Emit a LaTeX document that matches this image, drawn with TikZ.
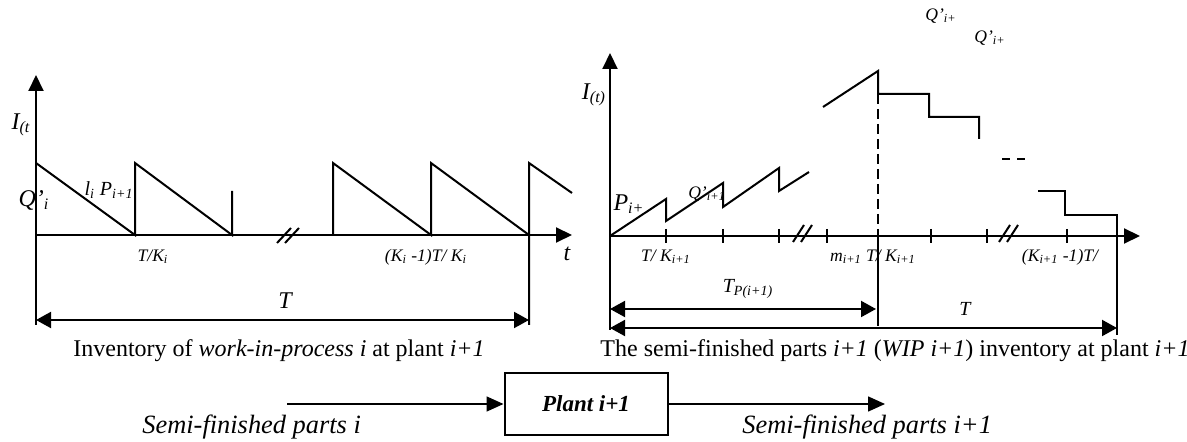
\documentclass[tikz,border=0pt]{standalone}
\usepackage{fontspec}
\setmainfont{Liberation Serif}
\usetikzlibrary{arrows.meta}
\newcommand{\sbs}[1]{\textsubscript{#1}}

\begin{document}
\begin{tikzpicture}[
    x=0.5pt, y=-0.5pt,
    axis/.style={line width=1pt, -{Triangle[length=8pt,width=7.5pt]}},
    saw/.style={line width=1pt},
    dim/.style={line width=1pt,
                {Triangle[length=7.5pt,width=8pt]}-{Triangle[length=7.5pt,width=8pt]}},
    flow/.style={line width=0.8pt, -{Triangle[length=8.5pt,width=7.5pt]}},
    biglbl/.style={inner sep=0pt, font=\fontsize{12}{14}\selectfont\itshape},
    midlbl/.style={inner sep=0pt, font=\fontsize{10}{12}\selectfont\itshape},
    ticklbl/.style={inner sep=0pt, font=\fontsize{8.8}{10}\selectfont\itshape},
    flowlbl/.style={inner sep=0pt, font=\fontsize{13.2}{15}\selectfont\itshape},
    caption/.style={inner sep=0pt, font=\fontsize{12}{14}\selectfont},
    plantbox/.style={draw, line width=1pt, minimum width=81.5pt, minimum height=31pt,
                     font=\fontsize{11.5}{13}\selectfont\bfseries\itshape}
  ]
  \useasboundingbox (0,0) rectangle (1187,442);

  % Left: work-in-process i at plant i+1
  \draw[axis] (36,325) -- (36,75);
  \draw[axis] (36,235) -- (572,235);
  \draw[saw] (36,163) -- (135,235) -- (135,163) -- (232,235) -- (232,191);
  \draw[saw] (333,235) -- (333,163) -- (431,235) -- (431,163) -- (529,235);
  \draw[saw] (529,325) -- (529,163) -- (572,193);
  \foreach \bx/\by in {287/235}
    \draw[saw] (\bx-10,\by+8) -- ++(14,-15) ++(-6,15) -- ++(14,-15);

  \node[biglbl] (ileft) at (21,125) {I\sbs{(t}};
  \node[biglbl] (qleft) at (34,200) {Q'\sbs{i}};
  \node[midlbl] (rate)  at (109,190) {l\sbs{i} P\sbs{i+1}};
  \node[ticklbl] (tk1)  at (153,257) {T/K\sbs{i}};
  \node[ticklbl] (tkk)  at (426,257) {(K\sbs{i} -1)T/ K\sbs{i}};
  \node[biglbl] (tleft) at (567,254) {t};

  \draw[dim] (36,320) -- (529,320);
  \node[biglbl] (Tleft) at (285,301) {T};
  \node[caption] (capleft) at (279,351)
    {Inventory of \textit{work-in-process i} at plant \textit{i+1}};

  % Right: semi-finished parts i+1 at plant i+1
  \draw[axis] (610,330) -- (610,53);
  \draw[axis] (610,236) -- (1140,236);
  \draw[saw] (610,236) -- (666,199) -- (666,221) -- (723,183) -- (723,207)
    -- (779,168) -- (779,191) -- (809,172);
  \draw[saw] (823,107) -- (878,71) -- (878,94) -- (929,94) -- (929,117)
    -- (979,117) -- (979,139);
  \draw[saw, dash pattern=on 4pt off 3.5pt] (1002,159) -- (1025,159);
  \draw[saw] (1038,191) -- (1065,191) -- (1065,215) -- (1117,215) -- (1117,335);
  \draw[saw, dash pattern=on 5pt off 2.5pt] (878,94) -- (878,236);
  \draw[saw] (878,236) -- (878,326);
  \foreach \tx in {666,723,779,827,931,987,1067}
    \draw[saw] (\tx,229) -- (\tx,243);
  \foreach \bx/\by in {802/236,1008/236}
    \draw[saw] (\bx-9,\by+6) -- ++(11,-17) ++(-3,17) -- ++(11,-17);

  \node[biglbl] (iright) at (594,95) {I\sbs{(t)}};
  \node[biglbl] (pright) at (629,204) {P\sbs{i+}};
  \node[ticklbl] (qright) at (707,194) {Q'\sbs{i+1}};
  \node[ticklbl] (qtop1) at (941,16) {Q'\sbs{i+}};
  \node[ticklbl] (qtop2) at (990,38) {Q'\sbs{i+}};
  \node[ticklbl] (tk2)  at (666,257) {T/ K\sbs{i+1}};
  \node[ticklbl] (tkm)  at (873,257) {m\sbs{i+1} T/ K\sbs{i+1}};
  \node[ticklbl] (tkr)  at (1060,257) {(K\sbs{i+1} -1)T/};

  \draw[dim] (610,309) -- (876,309);
  \node[midlbl] (tp) at (748,289) {T\sbs{P(i+1)}};
  \draw[dim] (610,328) -- (1117,328);
  \node[midlbl] (Tright) at (965,309) {T};
  \node[caption] (capright) at (895,351)
    {The semi-finished parts \textit{i+1} (\textit{WIP i+1}) inventory at plant \textit{i+1}};

  % Material flow through the plant
  \node[plantbox] (plant) at (586,404) {Plant i+1};
  \coordinate (inflow) at (287,404);
  \coordinate (outflow) at (885,404);
  \draw[flow] (inflow) -- (plant.west);
  \draw[flow] (plant.east) -- (outflow);
  \node[flowlbl, anchor=west] (inlbl) at (142,427) {Semi-finished parts i};
  \node[flowlbl, anchor=west] (outlbl) at (742,427) {Semi-finished parts i+1};

\end{tikzpicture}
\end{document}
